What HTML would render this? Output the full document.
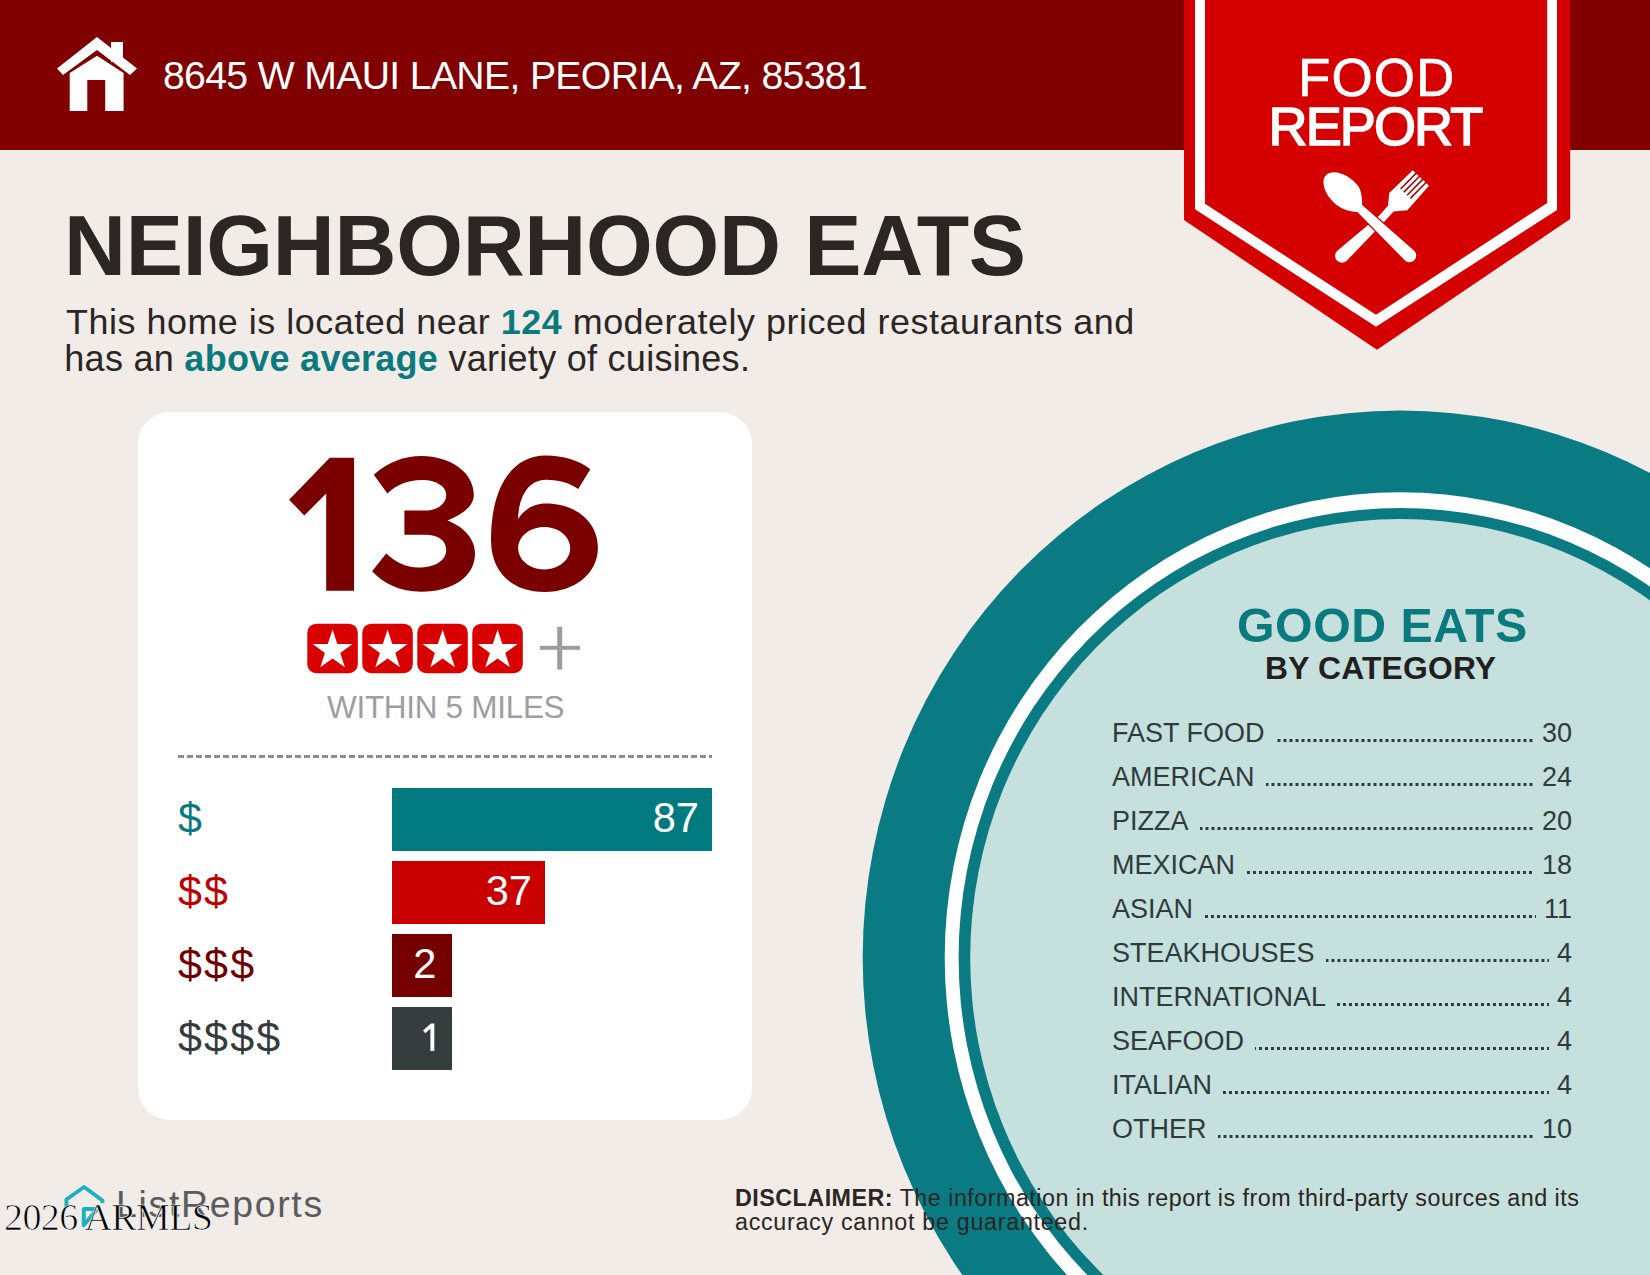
<!DOCTYPE html>
<html><head><meta charset="utf-8">
<style>
html,body{margin:0;padding:0;}
body{width:1650px;height:1275px;position:relative;overflow:hidden;background:#f1ece8;font-family:"Liberation Sans",sans-serif;}
.t{position:absolute;white-space:nowrap;line-height:1;transform-origin:0 0;}
#hdr{position:absolute;left:0;top:0;width:1650px;height:150px;background:#800000;}
#card{position:absolute;left:138px;top:412px;width:614px;height:708px;background:#fff;border-radius:32px;}
svg{position:absolute;left:0;top:0;}
.bar{position:absolute;left:392px;height:63px;}
.bn{position:absolute;right:13px;top:9px;font-size:41.6px;line-height:1;color:#fff;}
.row{position:absolute;left:1112px;width:460px;display:flex;align-items:baseline;font-size:27px;line-height:1;color:#2e3b3b;white-space:nowrap;}
.row .dots{flex:1;height:3px;margin:0 8px 0 11px;background-image:linear-gradient(to right,#2e3b3b 3px,transparent 3px);background-size:6px 3px;background-repeat:repeat-x;background-attachment:fixed;}
</style></head>
<body>
<div id="hdr"></div>

<!-- plate -->
<svg width="1650" height="1275" style="left:0;top:0">
  <ellipse cx="1400.4" cy="957.7" rx="537.7" ry="547.1" fill="#0a7b82"/>
  <ellipse cx="1400.4" cy="957.7" rx="455.7" ry="465.4" fill="#ffffff"/>
  <ellipse cx="1400.4" cy="957.7" rx="441.8" ry="449.7" fill="#0a7b82"/>
  <ellipse cx="1400.4" cy="957.7" rx="430.2" ry="438.6" fill="#c6e0de"/>
</svg>

<!-- badge -->
<svg width="1650" height="400" style="left:0;top:0">
  <polygon points="1184,-1 1570.2,-1 1570.2,219 1377,349.7 1184,220" fill="#d50000"/>
  <path fill-rule="evenodd" fill="#fff" d="M1195,-1 L1195,209.3 L1376,326.7 L1557,210 L1557,-1 Z M1205,-1 L1205,203.8 L1376,314.7 L1547.2,202.9 L1547.2,-1 Z"/>
  <!-- fork -->
  <path fill="#fff" d="M1412.8,170.2 L1429,185.8 L1407.3,210.2 L1393.6,211.6 L1385.9,219.9 L1346.5,261 A6.9,6.9 0 0 1 1337,251 L1379.3,215.5 L1388.1,205.6 L1389.2,193 Z"/>
  <g stroke="#9a0000" stroke-width="1.5">
    <line x1="1416.7" y1="172.6" x2="1400.6" y2="189"/>
    <line x1="1420" y1="175.7" x2="1403.9" y2="192.1"/>
    <line x1="1423.2" y1="178.9" x2="1407.1" y2="195.3"/>
    <line x1="1426.5" y1="182" x2="1410.4" y2="198.4"/>
  </g>
  <!-- spoon -->
  <path fill="#fff" stroke="#d50000" stroke-width="2.6" paint-order="stroke" d="M1323.5,183 C1323,177 1327,172.3 1333.8,172.3 C1343,172.3 1353,179 1358.5,186.5 C1361.5,191 1362.3,199 1362.1,205 L1414.2,250.8 A6.7,6.7 0 0 1 1405.3,260.8 L1357.4,212.1 C1349,211.5 1340,209 1333.8,202.6 C1327,196 1323.8,189 1323.5,183 Z"/>
</svg>

<!-- house icon -->
<svg width="200" height="150" style="left:0;top:0">
  <path d="M57,68.5 L97,37 L137,68.5 L130,75 L97,50 L63,75 Z" fill="#fff"/>
  <rect x="111" y="42" width="12" height="20" fill="#fff"/>
  <path d="M69.7,73 L97,55.8 L123.6,73 L123.6,111 L105.2,111 L105.2,80 L87.3,80 L87.3,111 L69.7,111 Z" fill="#fff"/>
</svg>

<div class="t" id="addr" style="left:163px;top:55.8px;font-size:39.2px;color:#fff;letter-spacing:-0.67px;">8645 W MAUI LANE, PEORIA, AZ, 85381</div>

<div class="t" id="food" style="left:1298px;top:50.6px;font-size:53px;color:#fff;letter-spacing:1.1px;-webkit-text-stroke:0.7px #fff;">FOOD</div>
<div class="t" id="report" style="left:1268.5px;top:99px;font-size:54px;color:#fff;-webkit-text-stroke:1.6px #fff;letter-spacing:-1.86px;">REPORT</div>

<div class="t" id="title" style="left:64px;top:203.1px;font-size:85.8px;color:#2b2523;font-weight:bold;letter-spacing:-0.25px;">NEIGHBORHOOD EATS</div>
<div class="t" id="sub1" style="left:66px;top:304.6px;font-size:35.9px;color:#2b2523;letter-spacing:0.53px;">This home is located near <b style="color:#0b7a7f">124</b> moderately priced restaurants and</div>
<div class="t" id="sub2" style="left:64.3px;top:340.8px;font-size:36px;color:#2b2523;letter-spacing:0.28px;">has an <b style="color:#0b7a7f">above average</b> variety of cuisines.</div>

<div id="card"></div>
<svg id="n136" width="700" height="700" style="left:0;top:0">
  <g fill="#7a0000">
    <path d="M329.8,457.8 L354.1,457.8 L354.1,590.8 L326.2,590.8 L326.2,493.6 L304.3,515.5 L289.1,499.7 Z"/>
  </g>
  <path fill="#7a0000" d="M373.8,474.7 C388,462 404,455.9 421.5,455.9 C450,455.9 473.8,472 473.8,495 C473.8,506 463,514 447.4,520.6 C464,527 475,539 475,553.5 C475,577 452,591.7 421.5,591.7 C400,591.7 383,583 372.1,571.2 L386.2,553.5 C395,562 407,567.6 418,567.6 C436,567.6 446.2,560 446.2,550 C446.2,540 438,534.7 425,534.7 L404.4,534.7 L404.4,510.6 L425,510.6 C437,510.6 446.2,504 446.2,495 C446.2,486 436,480 421.5,480 C408,480 396,485 387.4,493.5 Z"/>
<path fill="#7a0000" fill-rule="evenodd" d="M590.3,469.2 C579,460.5 563,455.6 546,455.6 C512,455.6 491,487 491,540 C491,574 514,592 544.4,592 C575,592 597.9,573 597.9,548 C597.9,521 575,503.6 546,503.6 C533,503.6 524,510 518,519 C519,494 530,479.8 546,479.8 C560,479.8 570,483.5 578.2,489 Z M544.2,527 C558.5,527 570.2,536.5 570.2,548.2 C570.2,560 558.5,569.4 544.2,569.4 C529.9,569.4 518.2,560 518.2,548.2 C518.2,536.5 529.9,527 544.2,527 Z"/>
</svg>

<!-- stars -->
<svg width="600" height="700" style="left:0;top:0">
  <defs>
    <g id="st">
      <rect x="0" y="0" width="50.5" height="49.5" rx="9" ry="9" fill="#d90000"/>
      <polygon fill="#fff" points="25.3,5.8 30,20.2 45.3,20.2 33,29.2 37.6,43.6 25.3,34.7 13,43.6 17.6,29.2 5.3,20.2 20.5,20.2"/>
    </g>
  </defs>
  <use href="#st" x="307.3" y="623.7"/>
  <use href="#st" x="362.3" y="623.7"/>
  <use href="#st" x="417.3" y="623.7"/>
  <use href="#st" x="472.3" y="623.7"/>
  <rect x="539.8" y="645.8" width="40.2" height="4" fill="#9c9c9c"/>
  <rect x="557.2" y="626.8" width="5" height="42.8" fill="#9c9c9c"/>
</svg>

<div class="t" id="within" style="left:327px;top:692px;font-size:31.5px;color:#9e9e9e;letter-spacing:-0.3px;">WITHIN 5 MILES</div>

<div style="position:absolute;left:178px;top:755px;width:534px;height:3px;background:linear-gradient(to right,#8c8c8c 6px,transparent 6px) 0 0/9px 3px repeat-x;"></div>

<div class="bar" style="top:788px;width:320px;background:#007a7f;"><span class="bn" id="b1">87</span></div>
<div class="bar" style="top:861px;width:153px;background:#c90000;"><span class="bn" id="b2">37</span></div>
<div class="bar" style="top:934px;width:60px;background:#750000;"><span class="bn" id="b3" style="right:15.5px">2</span></div>
<div class="bar" style="top:1007px;width:60px;background:#343c3c;"></div>
<svg width="500" height="1100" style="left:0;top:0"><path fill="#fff" d="M434.3,1023.5 L434.3,1051 L430.4,1051 L430.4,1028.8 L425.3,1033.2 L423,1030.6 L430.9,1023.5 Z"/></svg>

<div class="t" id="d1" style="left:178px;top:797px;font-size:43px;color:#0b7a7f;letter-spacing:2.2px;">$</div>
<div class="t" id="d2" style="left:178px;top:870px;font-size:43px;color:#c00000;letter-spacing:2.2px;">$$</div>
<div class="t" id="d3" style="left:178px;top:943px;font-size:43px;color:#700000;letter-spacing:2.2px;">$$$</div>
<div class="t" id="d4" style="left:178px;top:1016px;font-size:43px;color:#343c3c;letter-spacing:2.2px;">$$$$</div>

<div class="t" id="goodeats" style="left:1237px;top:601px;font-size:48.3px;color:#0b7a7f;font-weight:bold;letter-spacing:0.5px;">GOOD EATS</div>
<div class="t" id="bycat" style="left:1265px;top:652.5px;font-size:31.8px;color:#231f1f;font-weight:bold;letter-spacing:0.2px;">BY CATEGORY</div>

<div class="row" id="r0" style="top:720px;"><span>FAST FOOD</span><span class="dots" style="background-position:1277px 739px"></span><span>30</span></div>
<div class="row" id="r1" style="top:764px;"><span>AMERICAN</span><span class="dots" style="background-position:1277px 783px"></span><span>24</span></div>
<div class="row" id="r2" style="top:808px;"><span>PIZZA</span><span class="dots" style="background-position:1277px 827px"></span><span>20</span></div>
<div class="row" id="r3" style="top:852px;"><span>MEXICAN</span><span class="dots" style="background-position:1277px 871px"></span><span>18</span></div>
<div class="row" id="r4" style="top:896px;"><span>ASIAN</span><span class="dots" style="background-position:1277px 915px"></span><span>11</span></div>
<div class="row" id="r5" style="top:940px;"><span>STEAKHOUSES</span><span class="dots" style="background-position:1277px 959px"></span><span>4</span></div>
<div class="row" id="r6" style="top:984px;"><span>INTERNATIONAL</span><span class="dots" style="background-position:1277px 1003px"></span><span>4</span></div>
<div class="row" id="r7" style="top:1028px;"><span>SEAFOOD</span><span class="dots" style="background-position:1277px 1047px"></span><span>4</span></div>
<div class="row" id="r8" style="top:1072px;"><span>ITALIAN</span><span class="dots" style="background-position:1277px 1091px"></span><span>4</span></div>
<div class="row" id="r9" style="top:1116px;"><span>OTHER</span><span class="dots" style="background-position:1277px 1135px"></span><span>10</span></div>

<div class="t" id="disc1" style="left:735px;top:1186.8px;font-size:23.3px;color:#2b2523;letter-spacing:0.49px;"><b>DISCLAIMER:</b> The information in this report is from third-party sources and its</div>
<div class="t" id="disc2" style="left:735px;top:1210.7px;font-size:23.3px;color:#2b2523;letter-spacing:0.7px;">accuracy cannot be guaranteed.</div>

<!-- logo -->
<svg width="400" height="1275" style="left:0;top:0">
  <path d="M66.4,1207 L66.4,1199.5 L84.1,1187 L102.5,1200.5 L102.5,1203" fill="none" stroke="#1db0c2" stroke-width="3.9" stroke-linejoin="round"/>
  <path d="M83.9,1209 L97.3,1209 L83.7,1225.3 Z" fill="none" stroke="#1db0c2" stroke-width="3.9" stroke-linejoin="round"/>
</svg>
<div class="t" id="lr" style="left:116px;top:1186.1px;font-size:37.4px;color:#5b5b5d;letter-spacing:1.7px;">ListReports</div>
<div class="t" id="wm" style="left:4px;top:1198.2px;font-size:38px;color:#000;font-family:'Liberation Serif',serif;-webkit-text-stroke:0.7px #fff;letter-spacing:-0.6px;">2026 ARMLS</div>

</body></html>
